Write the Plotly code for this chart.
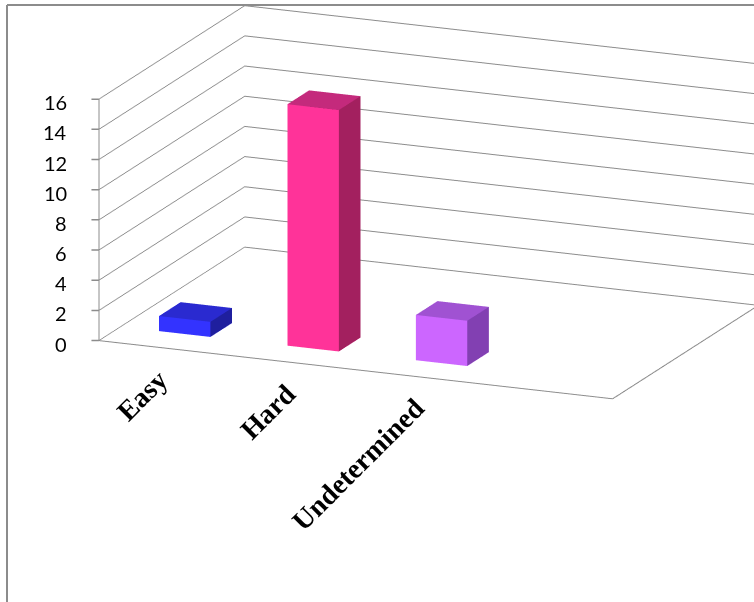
import plotly.graph_objects as go

# --- data -------------------------------------------------------------
categories = ["Easy", "Hard", "Undetermined"]
values = [1, 16, 3]
front_colors = ["#3333FF", "#FF3399", "#CC66FF"]
top_colors = ["#2A2AD0", "#C42A7C", "#A052D2"]
side_colors = ["#1F1F9E", "#A3205F", "#8240B2"]
z_ticks = [0, 2, 4, 6, 8, 10, 12, 14, 16]

# --- geometry of the 3-D plot box (in axis units) ---------------------
n_slots = 4            # category slots along x (the last one is empty)
floor_depth = 2.7      # depth of the floor, in category widths
bar_width = 0.4
bar_front = 0.40       # distance of the bar fronts behind the front edge
z_max = z_ticks[-1]
unit = 0.4628          # scene length of one category width
z_len = 0.833          # scene height of the value axis

GRID = "#8C8C8C"


def box_mesh(x0, x1, y0, y1, h, c_front, c_side, c_top):
    xs = [x0, x1, x1, x0, x0, x1, x1, x0]
    ys = [y0, y0, y1, y1, y0, y0, y1, y1]
    zs = [0, 0, 0, 0, h, h, h, h]
    tris = [
        (0, 1, 5), (0, 5, 4),   # front
        (1, 2, 6), (1, 6, 5),   # right side
        (4, 5, 6), (4, 6, 7),   # top
        (2, 3, 7), (2, 7, 6),   # back
        (3, 0, 4), (3, 4, 7),   # left side
        (0, 1, 2), (0, 2, 3),   # bottom
    ]
    colors = [c_front, c_front, c_side, c_side, c_top, c_top,
              c_side, c_side, c_front, c_front, c_front, c_front]
    return go.Mesh3d(
        x=xs, y=ys, z=zs,
        i=[t[0] for t in tris], j=[t[1] for t in tris], k=[t[2] for t in tris],
        facecolor=colors, flatshading=True,
        lighting=dict(ambient=1.0, diffuse=0.0, specular=0.0,
                      roughness=1.0, fresnel=0.0),
        hoverinfo="skip", showscale=False,
    )


fig = go.Figure()

for idx, (cat, val) in enumerate(zip(categories, values)):
    cx = idx + 0.5
    fig.add_trace(box_mesh(cx - bar_width / 2, cx + bar_width / 2,
                           bar_front, bar_front + bar_width, val,
                           front_colors[idx], side_colors[idx], top_colors[idx]))

# floor outline (front and right edges) and the front value-axis line
fig.add_trace(go.Scatter3d(
    x=[0, n_slots, n_slots], y=[0, 0, floor_depth], z=[0, 0, 0],
    mode="lines", line=dict(color=GRID, width=2), hoverinfo="skip"))
fig.add_trace(go.Scatter3d(
    x=[0, 0], y=[0, 0], z=[0, z_max],
    mode="lines", line=dict(color=GRID, width=2), hoverinfo="skip"))

# category labels under the front edge
label_font = dict(family="Liberation Serif", size=28, color="black")
annotations = [
    dict(x=idx + 0.5, y=0, z=0, text="<b>%s</b>" % cat, textangle=-45,
         showarrow=False, xanchor="right", yanchor="top",
         xshift=13, yshift=-13, font=label_font)
    for idx, cat in enumerate(categories)
]
# value-axis tick marks and labels along the front-left edge
tick_font = dict(family="Lato", size=20, color="black")
annotations += [
    dict(x=0, y=0, z=v, text="", showarrow=True, arrowhead=0,
         arrowwidth=1.5, arrowcolor=GRID, ax=-9, ay=0, standoff=0)
    for v in z_ticks
]
annotations += [
    dict(x=0, y=0, z=v, text=str(v), showarrow=False,
         xanchor="right", yanchor="middle", xshift=-30, yshift=-3,
         font=tick_font)
    for v in z_ticks
]

hidden = dict(showgrid=False, zeroline=False, showline=False,
              showticklabels=False, ticks="", title="", showspikes=False,
              showbackground=True, backgroundcolor="white")

fig.update_layout(
    width=754, height=602,
    margin=dict(l=0, r=0, t=0, b=0),
    paper_bgcolor="white",
    showlegend=False,
    scene=dict(
        domain=dict(x=[0, 1], y=[0, 1]),
        xaxis=dict(range=[0, n_slots], **hidden),
        yaxis=dict(range=[0, floor_depth], **hidden),
        zaxis=dict(range=[0, z_max], tickvals=z_ticks, showgrid=True,
                   gridcolor=GRID, gridwidth=2, zeroline=False,
                   showline=False, ticks="", showticklabels=False,
                   title="", showspikes=False,
                   showbackground=True, backgroundcolor="white"),
        aspectmode="manual",
        aspectratio=dict(x=unit * n_slots, y=unit * floor_depth, z=z_len),
        camera=dict(
            projection=dict(type="orthographic"),
            up=dict(x=0, y=0, z=1),
            center=dict(x=-0.1240, y=-0.1480, z=-0.3160),
            eye=dict(x=0.9807, y=-2.7759, z=0.4820),
        ),
        annotations=annotations,
    ),
    shapes=[
        dict(type="line", xref="paper", yref="paper",
             x0=7 / 754, x1=1, y0=1 - 5 / 602, y1=1 - 5 / 602,
             line=dict(color="#8C8C8C", width=2)),
        dict(type="line", xref="paper", yref="paper",
             x0=7 / 754, x1=7 / 754, y0=0, y1=1 - 5 / 602,
             line=dict(color="#8C8C8C", width=2)),
    ],
)

fig.write_html("out.html")
